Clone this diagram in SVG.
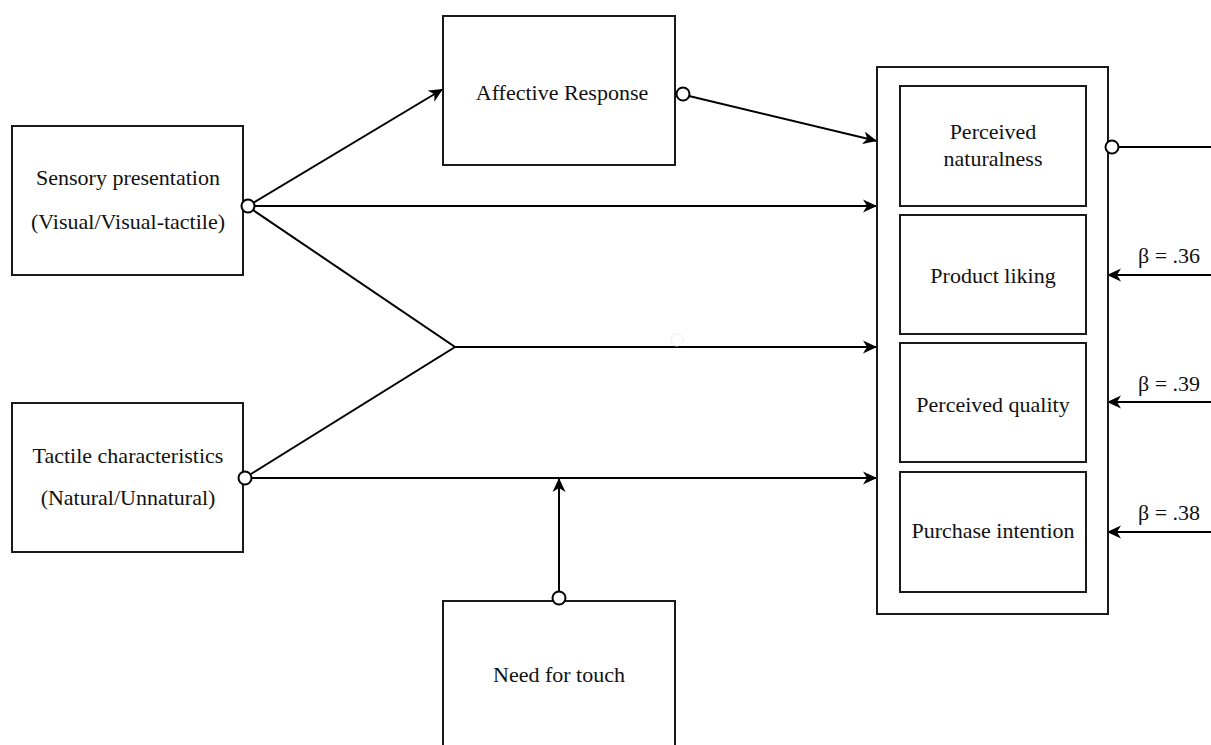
<svg xmlns="http://www.w3.org/2000/svg" width="1211" height="745" viewBox="0 0 1211 745">
<style>
.box{fill:#fff;stroke:#1a1a1a;stroke-width:2}
.ln{fill:none;stroke:#000;stroke-width:2}
.dot{fill:#fff;stroke:#000;stroke-width:2}
text{font-family:"Liberation Serif","Times New Roman",serif;font-size:22px;fill:#111;text-anchor:middle}
.lbl{text-anchor:start}
</style>
<defs>
<marker id="ah" markerUnits="userSpaceOnUse" markerWidth="18" markerHeight="14" refX="14" refY="7" orient="auto">
<path d="M0,0.5 L14,7 L0,13.5 L4,7 Z" fill="#000"/>
</marker>
</defs>
<rect width="1211" height="745" fill="#fff"/>
<g id="connectors">
<line class="ln" x1="253" y1="203" x2="443" y2="89" marker-end="url(#ah)"/>
<line class="ln" x1="254" y1="206" x2="877" y2="206" marker-end="url(#ah)"/>
<polyline class="ln" points="253,210 455,347 251,474"/>
<line class="ln" x1="455" y1="347" x2="877" y2="347" marker-end="url(#ah)"/>
<line class="ln" x1="251" y1="478" x2="877" y2="478" marker-end="url(#ah)"/>
<line class="ln" x1="689" y1="96" x2="877" y2="141" marker-end="url(#ah)"/>
<line class="ln" x1="559" y1="592" x2="559" y2="478" marker-end="url(#ah)"/>
<line class="ln" x1="1118" y1="147" x2="1211" y2="147"/>
<line class="ln" x1="1211" y1="275" x2="1107" y2="275" marker-end="url(#ah)"/>
<line class="ln" x1="1211" y1="402" x2="1107" y2="402" marker-end="url(#ah)"/>
<line class="ln" x1="1211" y1="532" x2="1107" y2="532" marker-end="url(#ah)"/>
<circle cx="677" cy="340" r="6" fill="none" stroke="#eee" stroke-width="1"/>
</g>
<g id="sensory">
<rect class="box" x="12" y="126" width="231" height="149"/>
<text x="128" y="185">Sensory presentation</text>
<text x="128" y="229">(Visual/Visual-tactile)</text>
<circle class="dot" cx="248" cy="206" r="6.5"/>
</g>
<g id="tactile">
<rect class="box" x="12" y="403" width="231" height="149"/>
<text x="128" y="463">Tactile characteristics</text>
<text x="128" y="505">(Natural/Unnatural)</text>
<circle class="dot" cx="245" cy="478" r="6.5"/>
</g>
<g id="affective">
<rect class="box" x="443" y="16" width="232" height="149"/>
<text x="562" y="100">Affective Response</text>
<circle class="dot" cx="683" cy="94" r="6.5"/>
</g>
<g id="needtouch">
<rect class="box" x="443" y="601" width="232" height="160"/>
<text x="559" y="682">Need for touch</text>
<circle class="dot" cx="559" cy="598" r="6.5"/>
</g>
<g id="outcomes">
<rect class="box" x="877" y="67" width="231" height="547"/>
<circle class="dot" cx="1112" cy="147" r="6.5"/>
</g>
<g id="naturalness">
<rect class="box" x="900" y="86" width="186" height="120"/>
<text x="993" y="139">Perceived</text>
<text x="993" y="166">naturalness</text>
</g>
<g id="liking">
<rect class="box" x="900" y="215" width="186" height="119"/>
<text x="993" y="283">Product liking</text>
</g>
<g id="quality">
<rect class="box" x="900" y="343" width="186" height="119"/>
<text x="993" y="412">Perceived quality</text>
</g>
<g id="purchase">
<rect class="box" x="900" y="472" width="186" height="120"/>
<text x="993" y="538">Purchase intention</text>
</g>
<g id="labels">
<text class="lbl" x="1138" y="263">β = .36</text>
<text class="lbl" x="1138" y="391">β = .39</text>
<text class="lbl" x="1138" y="520">β = .38</text>
</g>
</svg>
